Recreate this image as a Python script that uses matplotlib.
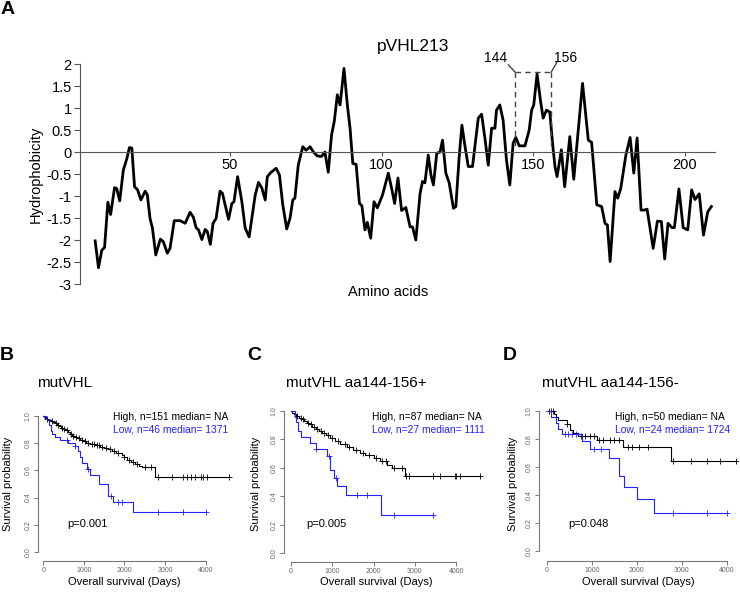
import numpy as np
import matplotlib
matplotlib.use('Agg')
import matplotlib.pyplot as plt

plt.rcParams['font.family'] = ['Liberation Sans', 'DejaVu Sans']
plt.rcParams['axes.unicode_minus'] = False

# ---- panel A: hydrophobicity profile of pVHL213
hyd_aa = [5.5, 6.6, 7.7, 8.6, 9.7, 10.6, 11.9, 12.6, 13.6, 14.8, 16.0, 16.8, 17.6,
          18.5, 19.5, 20.6, 22.0, 22.7, 23.6, 24.4, 25.5, 27.0, 28.0, 29.3, 30.2,
          31.6, 33.5, 35.2, 36.8, 37.9, 38.8, 39.6, 40.7, 41.8, 42.5, 43.5, 44.4,
          45.4, 46.7, 47.5, 49.5, 50.6, 51.3, 52.5, 53.9, 55.0, 56.3, 58.3, 59.4,
          60.5, 61.6, 62.3, 63.4, 65.2, 66.3, 67.4, 68.7, 69.8, 70.7, 71.4, 72.5,
          74.0, 75.1, 76.4, 77.5, 78.8, 80.2, 81.3, 82.4, 83.5, 84.4, 85.4, 86.3,
          87.6, 88.7, 89.6, 90.5, 91.6, 92.7, 93.5, 94.5, 95.3, 96.4, 97.5, 98.6,
          100.3, 102.2, 103.3, 104.3, 105.4, 106.6, 108.0, 109.4, 110.2, 111.3,
          112.7, 113.5, 114.3, 115.4, 116.3, 117.1, 118.2, 119.3, 120.1, 121.2,
          122.3, 123.7, 124.5, 125.6, 126.5, 127.5, 128.6, 130.0, 130.8, 131.9,
          133.0, 134.1, 135.2, 136.3, 137.4, 137.9, 139.0, 140.1, 141.2, 142.3,
          143.4, 144.3, 145.4, 147.3, 148.7, 149.5, 150.2, 151.3, 152.4, 153.3,
          154.4, 155.5, 156.4, 157.2, 157.9, 159.3, 160.4, 162.1, 163.4, 166.3,
          168.2, 169.3, 171.0, 172.6, 173.7, 174.5, 175.4, 177.0, 177.9, 178.9,
          180.6, 182.0, 183.2, 184.3, 185.6, 186.7, 187.6, 189.6, 191.0, 192.3,
          193.4, 194.5, 195.8, 196.6, 198.1, 199.5, 201.0, 202.3, 203.4, 204.8,
          206.2, 207.6, 208.8]
hyd_val = [-2.02, -2.63, -2.23, -2.17, -1.14, -1.42, -0.81, -0.83, -1.11, -0.41, -0.14, 0.10, 0.09,
           -0.79, -0.86, -1.09, -0.89, -0.97, -1.51, -1.73, -2.34, -1.98, -2.04, -2.30, -2.19,
           -1.56, -1.56, -1.62, -1.37, -1.48, -1.72, -1.77, -1.99, -1.76, -1.81, -2.10, -1.62,
           -1.51, -0.89, -0.94, -1.53, -1.17, -1.13, -0.56, -1.13, -1.73, -1.93, -0.98, -0.69,
           -0.82, -1.09, -0.56, -0.47, -0.37, -0.52, -1.20, -1.75, -1.50, -1.09, -1.05, -0.30,
           0.12, 0.04, 0.12, 0.00, -0.09, -0.10, 0.00, -0.46, 0.39, 0.70, 1.30, 1.07,
           1.90, 1.07, 0.54, -0.26, -0.28, -1.17, -1.22, -1.77, -1.60, -1.96, -1.13, -1.27,
           -0.98, -0.48, -0.82, -1.17, -0.59, -1.33, -1.26, -1.70, -1.70, -2.00,
           -0.94, -0.67, -0.70, -0.07, -0.53, -0.75, -0.03, 0.00, 0.27, -0.48,
           -0.70, -1.28, -1.24, -0.11, 0.61, 0.14, -0.33, -0.33, 0.14, 0.77,
           0.86, 0.31, -0.30, 0.54, 0.54, 0.95, 1.07, 0.72, -0.18, -0.75,
           0.20, 0.33, 0.14, 0.14, 0.50, 0.95, 1.07, 1.77, 1.18, 0.77,
           0.95, 0.91, 0.20, -0.33, -0.56, 0.05, -0.79, 0.35, -0.62, 1.56,
           0.27, 0.22, -1.20, -1.24, -1.62, -1.66, -2.49, -0.90, -1.05, -0.83,
           -0.07, 0.33, -0.48, 0.32, -1.32, -1.32, -1.30, -2.19, -1.57, -1.58,
           -2.43, -1.62, -1.72, -1.72, -0.84, -1.72, -1.77, -0.86, -1.08, -0.95,
           -1.89, -1.36, -1.24]
hyd_yticks = [2, 1.5, 1, 0.5, 0, -0.5, -1, -1.5, -2, -2.5, -3]
hyd_ylabels = ['2', '1.5', '1', '0.5', '0', '-0.5', '-1', '-1.5', '-2', '-2.5', '-3']
hyd_xticks = [50, 100, 150, 200]
region = [144, 156]

# ---- panels B-D: Kaplan-Meier curves (step times, survival, censor times)
km_titles = ['mutVHL', 'mutVHL aa144-156+', 'mutVHL aa144-156-']
km_letters = ['B', 'C', 'D']
km_high_txt = ['High, n=151 median= NA', 'High, n=87 median= NA', 'High, n=50 median= NA']
km_low_txt = ['Low, n=46 median= 1371', 'Low, n=27 median= 1111', 'Low, n=24 median= 1724']
km_pvals = ['p=0.001', 'p=0.005', 'p=0.048']

high_B_t = [0, 25, 50, 80, 120, 160, 200, 250, 290, 340, 390, 440, 490, 540, 600, 650, 700,
            760, 830, 900, 980, 1060, 1160, 1280, 1400, 1500, 1600, 1700, 1800, 1950, 1980,
            2050, 2150, 2250, 2350, 2420, 2760]
high_B_s = [1.0, 0.993, 0.987, 0.98, 0.973, 0.967, 0.96, 0.953, 0.945, 0.935, 0.925, 0.915,
            0.905, 0.895, 0.88, 0.87, 0.855, 0.845, 0.835, 0.825, 0.815, 0.805, 0.795, 0.785,
            0.775, 0.765, 0.755, 0.745, 0.73, 0.715, 0.695, 0.68, 0.665, 0.65, 0.635, 0.625, 0.555]
high_B_cens = [100, 220, 320, 370, 460, 520, 580, 680, 730, 800, 870, 950, 1020, 1100, 1200,
               1250, 1330, 1380, 1450, 1550, 1650, 1750, 1850, 2000, 2100, 2200, 2300, 2500,
               2650, 2830, 3160, 3450, 3530, 3650, 3740, 3880, 3940, 4020, 4570]
low_B_t = [0, 60, 140, 180, 206, 290, 410, 600, 780, 847, 904, 962, 1068, 1150, 1371, 1585, 1724, 2201]
low_B_s = [1.0, 0.978, 0.935, 0.89, 0.87, 0.848, 0.826, 0.804, 0.782, 0.739, 0.696, 0.652,
           0.609, 0.565, 0.497, 0.414, 0.368, 0.295]
low_B_cens = [576, 780, 1109, 1667, 1832, 1946, 2817, 3448, 4000]

high_C_t = [0, 40, 90, 140, 200, 260, 330, 390, 450, 520, 600, 680, 760, 850, 950, 1080,
            1200, 1350, 1500, 1680, 1800, 2000, 2150, 2320, 2450, 2750]
high_C_s = [1.0, 0.989, 0.977, 0.966, 0.954, 0.943, 0.93, 0.918, 0.905, 0.89, 0.875, 0.86,
            0.845, 0.828, 0.81, 0.79, 0.77, 0.745, 0.725, 0.705, 0.69, 0.67, 0.65, 0.62, 0.6, 0.54]
high_C_cens = [150, 240, 300, 420, 480, 560, 640, 720, 800, 900, 1000, 1150, 1300, 1420,
               1580, 1750, 1900, 2050, 2200, 2300, 2500, 2700, 2780, 2850, 3430, 3600, 3960,
               4000, 4100, 4570]
low_C_t = [0, 100, 140, 180, 240, 470, 600, 880, 940, 1050, 1111, 1330, 2190]
low_C_s = [1.0, 0.96, 0.92, 0.86, 0.815, 0.775, 0.735, 0.68, 0.585, 0.525, 0.47, 0.405, 0.27]
low_C_cens = [600, 930, 1100, 1600, 1850, 2500, 3440]

high_D_t = [0, 170, 200, 260, 440, 520, 590, 700, 1110, 1700, 2760]
high_D_s = [1.0, 0.978, 0.956, 0.933, 0.91, 0.865, 0.843, 0.82, 0.79, 0.74, 0.645]
high_D_cens = [50, 100, 150, 450, 750, 850, 950, 1050, 1150, 1250, 1400, 1500, 1600, 1800,
               1900, 2050, 2250, 2800, 3200, 3550, 3850, 4200]
low_D_t = [0, 100, 200, 260, 330, 780, 960, 1390, 1610, 1724, 2000, 2390]
low_D_s = [1.0, 0.958, 0.917, 0.875, 0.833, 0.785, 0.73, 0.667, 0.533, 0.457, 0.37, 0.275]
low_D_cens = [400, 480, 560, 650, 1050, 1200, 2800, 3550, 4000]

km_high = [(high_B_t, high_B_s, high_B_cens), (high_C_t, high_C_s, high_C_cens),
           (high_D_t, high_D_s, high_D_cens)]
km_low = [(low_B_t, low_B_s, low_B_cens, 4000), (low_C_t, low_C_s, low_C_cens, 3440),
          (low_D_t, low_D_s, low_D_cens, 4000)]
km_high_end = [4570, 4570, 4200]

W, H = 740, 596
fig = plt.figure(figsize=(W / 100, H / 100), dpi=100)


def px_axes(l, t, r, b):
    return fig.add_axes([l / W, 1 - b / H, (r - l) / W, (b - t) / H])


def ftext(x, y, s, **kw):
    fig.text(x / W, 1 - y / H, s, **kw)


# ---------------- panel A
ax = px_axes(80, 64, 715, 284)
ax.plot(hyd_aa, hyd_val, color='black', lw=2, solid_joinstyle='round')
ax.set_xlim(0.5, 210)
ax.set_ylim(-3, 2)
ax.spines['top'].set_visible(False)
ax.spines['right'].set_visible(False)
ax.spines['bottom'].set_position(('data', 0))
ax.spines['bottom'].set_color('#555555')
ax.spines['left'].set_color('#555555')
ax.set_yticks(hyd_yticks)
ax.set_yticklabels(hyd_ylabels)
ax.set_xticks(hyd_xticks)
ax.tick_params(axis='y', direction='out', length=4, labelsize=10.5, pad=2, color='#555555')
ax.tick_params(axis='x', direction='out', length=3, labelsize=10.5, pad=1, color='#555555')
ax.set_ylabel('Hydrophobicity', fontsize=10.5, labelpad=3)

# bracket for aa 144-156
ytop = 1.82
ax.plot(region, [ytop, ytop], color='#444444', lw=1, ls=(0, (4, 3)), clip_on=False)
for xr in region:
    ax.plot([xr, xr], [ytop, 0.05], color='#444444', lw=1, ls=(0, (4, 3)), clip_on=False)
ax.plot([141.8, region[0]], [1.98, ytop], color='#444444', lw=1, clip_on=False)
ax.plot([region[1], 157.9], [ytop, 2.05], color='#444444', lw=1, clip_on=False)

ftext(496, 58, '144', fontsize=10, ha='center', va='center')
ftext(566, 58, '156', fontsize=10, ha='center', va='center')
ftext(413, 46, 'pVHL213', fontsize=12.5, ha='center', va='center')
ftext(388, 292, 'Amino acids', fontsize=10.5, ha='center', va='center')
ftext(1, 9, 'A', fontsize=14, fontweight='bold', ha='left', va='center')

# ---------------- panels B-D
# pixel geometry: y-spine x, x of day 0, x of day 4000, y of S=1, y of S=0, x-spine y, right edge
geo = [(38, 43.3, 205.7, 416, 552, 561, 245),
       (284, 290.7, 456.3, 411, 553, 562, 490),
       (539, 546.7, 727.0, 411, 551, 561, 738)]
title_x = [37, 286, 542]
letter_x = [0, 247, 503]
legend_x = [113, 372, 615]
pval_x = [67, 306, 568]
ylab_x = [8, 256, 513]
xlab_x = [124, 376, 638]
blue = '#2222ff'
gray = '#777777'

for i in range(3):
    ysp, x0, x4, y1, y0, xsp, right = geo[i]
    top = 400
    sx = (x4 - x0) / 4000.0
    sy = (y0 - y1) / 1.0
    kax = px_axes(ysp, top, right, xsp)
    kax.set_xlim((ysp - x0) / sx, (right - x0) / sx)
    kax.set_ylim(-(xsp - y0) / sy, (y0 - top) / sy)
    for sp in ['top', 'right']:
        kax.spines[sp].set_visible(False)
    kax.spines['left'].set_bounds(0, 1)
    kax.spines['bottom'].set_bounds(0, 4000)
    for sp in ['left', 'bottom']:
        kax.spines[sp].set_color(gray)
        kax.spines[sp].set_linewidth(0.8)
    kax.set_xticks([0, 1000, 2000, 3000, 4000])
    kax.set_yticks([0, 0.2, 0.4, 0.6, 0.8, 1.0])
    kax.set_yticklabels(['0.0', '0.2', '0.4', '0.6', '0.8', '1.0'], rotation=90, va='center')
    kax.tick_params(length=3, width=0.7, color=gray, labelsize=5, labelcolor='#666666', pad=1.5)

    ht, hs, hc = km_high[i]
    kax.step(ht + [km_high_end[i]], hs + [hs[-1]], where='post', color='black', lw=0.8)
    hc = np.array(hc)
    kax.plot(hc, np.array(hs)[np.searchsorted(ht, hc, side='right') - 1], '+',
             color='black', ms=4, mew=0.6)
    lt, ls_, lc, lend = km_low[i]
    kax.step(lt + [lend], ls_ + [ls_[-1]], where='post', color=blue, lw=0.8)
    lc = np.array(lc)
    kax.plot(lc, np.array(ls_)[np.searchsorted(lt, lc, side='right') - 1], '+',
             color=blue, ms=4, mew=0.6)

    ftext(letter_x[i], 356, km_letters[i], fontsize=14, fontweight='bold', ha='left', va='center')
    ftext(title_x[i], 383, km_titles[i], fontsize=11, ha='left', va='center')
    ftext(legend_x[i], 417, km_high_txt[i], fontsize=7.4, ha='left', va='center')
    ftext(legend_x[i], 429, km_low_txt[i], fontsize=7.4, ha='left', va='center', color=blue)
    ftext(pval_x[i], 524, km_pvals[i], fontsize=8, ha='left', va='center')
    ftext(ylab_x[i], 484, 'Survival probability', fontsize=8, rotation=90,
          ha='center', va='center')
    ftext(xlab_x[i], 582, 'Overall survival (Days)', fontsize=8, ha='center', va='center')

fig.savefig('out.png', dpi=100)
